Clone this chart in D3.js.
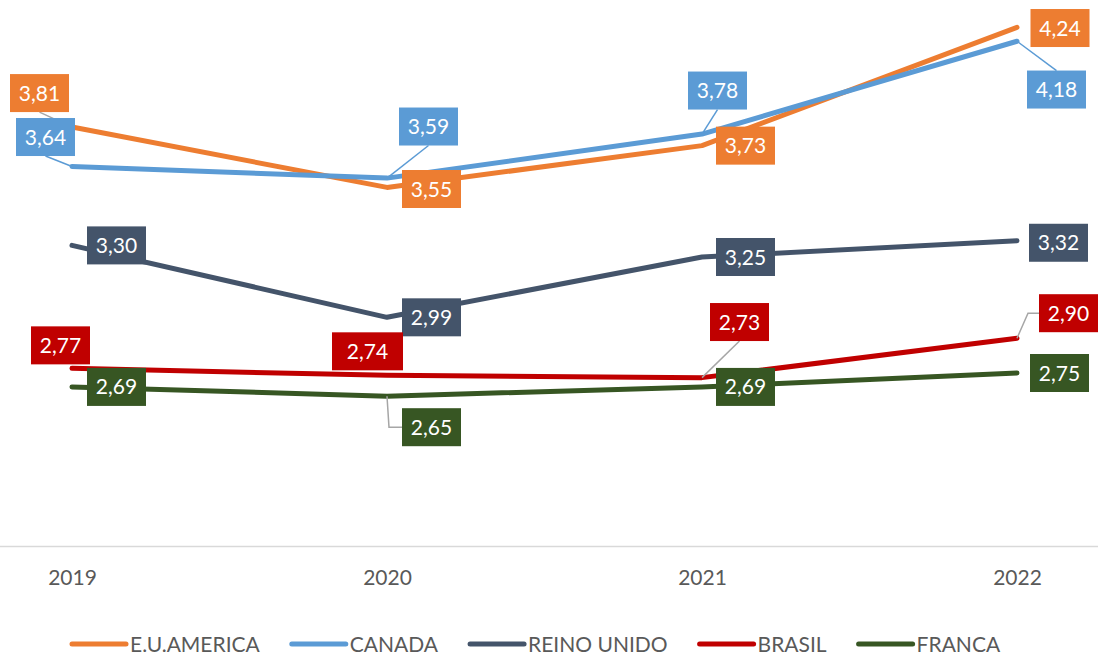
<!DOCTYPE html>
<html>
<head>
<meta charset="utf-8">
<script src="https://cdn.jsdelivr.net/npm/d3@7"></script>
<style>
  html, body { margin: 0; padding: 0; background: #ffffff; }
  svg { display: block; font-family: Lato, "Open Sans", sans-serif; }
</style>
</head>
<body>
<svg id="chart" width="1098" height="655"></svg>
<script>
// Years on the category axis
const years = ["2019", "2020", "2021", "2022"];

// Series names and their values per year
const seriesNames = ["E.U.AMERICA", "CANADA", "REINO UNIDO", "BRASIL", "FRANCA"];
const euAmerica  = [3.81, 3.55, 3.73, 4.24];
const canada     = [3.64, 3.59, 3.78, 4.18];
const reinoUnido = [3.30, 2.99, 3.25, 3.32];
const brasil     = [2.77, 2.74, 2.73, 2.90];
const franca     = [2.69, 2.65, 2.69, 2.75];

// Line colours per series
const colors = ["#ED7D31", "#5B9BD5", "#44546A", "#C00000", "#375623"];

// Data-label placement: box centre offset from its point, optional leader line
// leader: "bottom" / "top" = straight line to that edge; "elbow" = bent line into left edge
const labelLayout = [
  [ {dx: -32.5, dy: -34, leader: "bottom", lc: "#A6A6A6"},
    {dx: 44.5, dy: 1.6},
    {dx: 43.5, dy: 0},
    {dx: 43, dy: 0.7} ],
  [ {dx: -26.5, dy: -29.5, leader: "bottom", lc: "#5B9BD5"},
    {dx: 41.5, dy: -51.6, leader: "bottom", lc: "#5B9BD5"},
    {dx: 15.5, dy: -43.5, leader: "bottom", lc: "#5B9BD5"},
    {dx: 39.5, dy: 48.3, leader: "top", lc: "#5B9BD5"} ],
  [ {dx: 44.5, dy: 0},
    {dx: 44.5, dy: 0},
    {dx: 43.5, dy: 0},
    {dx: 41.5, dy: 2} ],
  [ {dx: -11.5, dy: -23},
    {dx: -19.5, dy: -24, w: 71},
    {dx: 37.5, dy: -55.6, leader: "bottom", lc: "#A6A6A6"},
    {dx: 51.5, dy: -25, leader: "elbow", lc: "#A6A6A6"} ],
  [ {dx: 44.5, dy: 0},
    {dx: 44.5, dy: 31, leader: "elbow", lc: "#A6A6A6"},
    {dx: 43.5, dy: 0},
    {dx: 42.5, dy: 0} ]
];

const seriesValues = [euAmerica, canada, reinoUnido, brasil, franca];
const series = seriesNames.map((name, i) => ({
  name, color: colors[i],
  points: years.map((yr, j) => ({ year: yr, value: seriesValues[i][j], lab: labelLayout[i][j] }))
}));

const svg = d3.select("#chart");
const W = 1098;
const textColor = "#595959";
const FONT = "21px";

const x = d3.scalePoint().domain(years).range([72, 1017]);
const y = d3.scaleLinear().domain([2, 4.25]).range([547, 25]);

// Category axis baseline across the full width
svg.append("line")
  .attr("x1", 0).attr("x2", W)
  .attr("y1", 546.5).attr("y2", 546.5)
  .attr("stroke", "#D9D9D9").attr("stroke-width", 1.5);

// Category labels
const xAxis = d3.axisBottom(x).tickSize(0).tickPadding(0);
const gx = svg.append("g").attr("transform", "translate(0,547)").call(xAxis);
gx.select(".domain").remove();
gx.selectAll("text")
  .attr("y", 38).attr("dy", 0)
  .attr("fill", textColor)
  .style("font-size", FONT)
  .style("font-family", "Lato, 'Open Sans', sans-serif");

// Series lines
const line = d3.line().x(d => x(d.year)).y(d => y(d.value));
svg.append("g").selectAll("path")
  .data(series).join("path")
  .attr("d", d => line(d.points))
  .attr("fill", "none")
  .attr("stroke", d => d.color)
  .attr("stroke-width", 5)
  .attr("stroke-linecap", "round")
  .attr("stroke-linejoin", "round");

// Data labels
const BOX_W = 59, BOX_H = 38;
const fmt = v => d3.format(".2f")(v).replace(".", ",");
const labels = [];
series.forEach(s => s.points.forEach(p => {
  const px = x(p.year), py = y(p.value);
  const w = p.lab.w || BOX_W;
  const cx = px + p.lab.dx, cy = py + p.lab.dy;
  labels.push({ s, p, px, py, cx, cy, w });
}));

// Leader lines beneath boxes
const leaders = svg.append("g");
labels.filter(l => l.p.lab.leader).forEach(l => {
  const t = l.p.lab.leader;
  let pts;
  if (t === "bottom") pts = [[l.px, l.py], [l.cx, l.cy + BOX_H / 2]];
  else if (t === "top") pts = [[l.px, l.py], [l.cx, l.cy - BOX_H / 2]];
  else {
    const left = l.cx - l.w / 2;
    pts = [[l.px, l.py], [left - 11, l.cy], [left, l.cy]];
    if (Math.abs(l.cy - l.py) > 20 && l.cy > l.py) pts = [[l.px, l.py], [l.px + 2, l.cy], [left, l.cy]];
  }
  leaders.append("path")
    .attr("d", d3.line()(pts))
    .attr("fill", "none")
    .attr("stroke", l.p.lab.lc)
    .attr("stroke-width", 1.5);
});

const boxes = svg.append("g").selectAll("g")
  .data(labels).join("g")
  .attr("transform", d => `translate(${d.cx},${d.cy})`);
boxes.append("rect")
  .attr("x", d => -d.w / 2).attr("y", -BOX_H / 2)
  .attr("width", d => d.w).attr("height", BOX_H)
  .attr("fill", d => d.s.color);
boxes.append("text")
  .attr("text-anchor", "middle")
  .attr("y", 7.5)
  .attr("fill", "#ffffff")
  .style("font-size", FONT)
  .text(d => fmt(d.p.value));

// Legend
const legend = svg.append("g").attr("transform", "translate(0,644)");
let lx = 72;
series.forEach(s => {
  const g = legend.append("g").attr("transform", `translate(${lx},0)`);
  g.append("line")
    .attr("x1", 0).attr("x2", 54).attr("y1", 0).attr("y2", 0)
    .attr("stroke", s.color).attr("stroke-width", 5)
    .attr("stroke-linecap", "round");
  const t = g.append("text")
    .attr("x", 58).attr("y", 7.5)
    .attr("fill", textColor)
    .style("font-size", FONT)
    .text(s.name);
  lx += 58 + t.node().getComputedTextLength() + 32;
});
</script>
</body>
</html>
